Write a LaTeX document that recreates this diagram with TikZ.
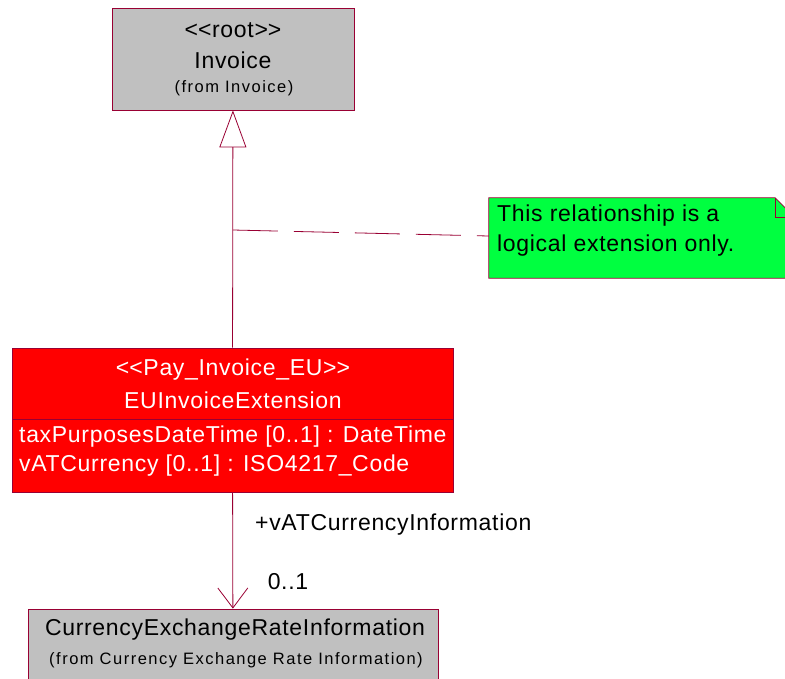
\documentclass[tikz,border=0pt]{standalone}
\usepackage{fontspec}
\setmainfont{Liberation Sans}
\usetikzlibrary{arrows.meta}
\definecolor{umlline}{HTML}{990033}
\definecolor{umlgray}{HTML}{C0C0C0}
\definecolor{umlred}{HTML}{FF0000}
\definecolor{umlgreen}{HTML}{00FF40}
\newcommand\mainsize{\fontsize{23}{27}\selectfont\addfontfeatures{LetterSpace=3}}
\newcommand\fromsize{\fontsize{16.5}{19}\selectfont\addfontfeatures{LetterSpace=9}}
\tikzset{
  classbox/.style={draw=umlline, line width=0.8pt, fill=umlgray, inner sep=0pt},
  redbox/.style={classbox, fill=umlred},
  txt/.style={inner sep=0pt, font=\mainsize},
  fromtxt/.style={inner sep=0pt, font=\fromsize},
  link/.style={draw=umlline, line width=0.8pt}
}
\begin{document}
\begin{tikzpicture}[x=1pt,y=-1pt]
  \useasboundingbox (0,0) rectangle (785,678);
  \node[classbox, minimum width=242pt, minimum height=102pt] (invoice) at (233,59) {};
  \node[txt] at (233,30) {<\kern0pt<root>\kern0pt>};
  \node[txt] at (233,60) {Invoice};
  \node[fromtxt] at (234,88) {(from Invoice)};
  \node[redbox, minimum width=441pt, minimum height=71pt] (euhead) at (232.5,383.5) {};
  \node[redbox, minimum width=441pt, minimum height=73pt] (euattr) at (232.5,455.5) {};
  \node[txt, white] at (233,370) {<\kern0pt<Pay\_Invoice\_EU>\kern0pt>};
  \node[txt, white] at (233,400) {EUInvoiceExtension};
  \node[txt, white, anchor=west] at (19,437) {taxPurposesDateTime [0..1] : DateTime};
  \node[txt, white, anchor=west] at (19,466) {vATCurrency [0..1] : ISO4217\_Code};
  \node[classbox, minimum width=410pt, minimum height=92pt] (currency) at (233,655) {};
  \node[txt] at (235,630) {CurrencyExchangeRateInformation};
  \node[fromtxt] at (236,660) {(from Currency Exchange Rate Information)};
  \node[minimum width=306pt, minimum height=80pt, inner sep=0pt] (note) at (642,238) {};
  \filldraw[link, fill=umlgreen] (note.south west) -- (note.north west) -- ([xshift=-20pt]note.north east)
    -- ([yshift=-20pt]note.north east) -- (note.south east) -- cycle;
  \draw[link] ([xshift=-20pt]note.north east) -- ([xshift=-20pt,yshift=-20pt]note.north east)
    -- ([yshift=-20pt]note.north east);
  \node[txt, anchor=west] at (497,216) {This relationship is a};
  \node[txt, anchor=west] at (497,246) {logical extension only.};
  \draw[link, -{Triangle[open, length=37pt, width=27pt]}] (euhead) -- (invoice);
  \coordinate (split) at (233,230);
  \draw[link, dash pattern=on 45pt off 16pt] (split) -- ([yshift=2pt]note.west);
  \draw[link, -{Straight Barb[length=20pt, width=30pt]}] (euattr) -- (currency);
  \node[txt, anchor=west] at (255,525) {+vATCurrencyInformation};
  \node[txt] at (288,582) {0..1};
\end{tikzpicture}
\end{document}
